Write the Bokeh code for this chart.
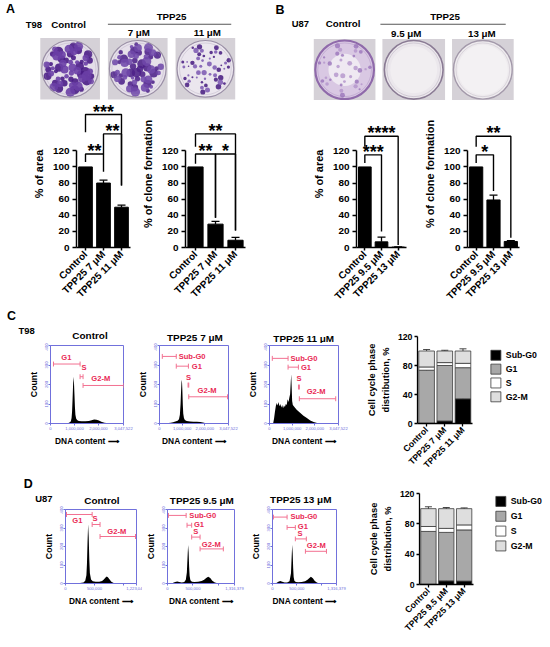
import math
from bokeh.plotting import figure
from bokeh.layouts import row, column
from bokeh.models import (Range1d, FixedTicker, LinearAxis, Whisker, ColumnDataSource, TeeHead)
from bokeh.embed import file_html
from bokeh.resources import INLINE
from bokeh.core.properties import value

# ---------------- data ----------------
cats_A = ["Control", "TPP25 7 μM", "TPP25 11 μM"]
cats_B = ["Control", "TPP25 9.5 μM", "TPP25 13 μM"]

A_area = [100, 80, 50]
A_area_sd = [0, 3.5, 2.5]
A_clone = [100, 29, 9]
A_clone_sd = [0, 3.5, 3.5]
B_area = [100, 7, 0.5]
B_area_sd = [0, 6, 0.4]
B_clone = [100, 59, 7.5]
B_clone_sd = [0, 6, 1]

# significance brackets: (from, to, bracket y, left leg end, right leg end, label)
A_area_sig = [(0, 2, 165, 143, 77, "***"), (1, 2, 141, 116, 77, "**"), (0, 1, 116, 106, 94, "**")]
A_clone_sig = [(0, 2, 141, 125, 21, "**"), (0, 1, 116, 104, 37, "**"), (1, 2, 116, 37, 21, "*")]
B_area_sig = [(0, 2, 138, 125, 3, "****"), (0, 1, 115, 105, 20, "***")]
B_clone_sig = [(0, 2, 138, 125, 12, "**"), (0, 1, 115, 105, 70, "*")]

# DNA content histograms (x in millions, counts)
T98_ctrl_x = [0.0, 0.4, 0.65, 0.75, 0.81, 0.85, 0.88, 0.90, 0.92, 0.94, 0.96, 0.98, 1.00, 1.02, 1.04,
              1.07, 1.11, 1.18, 1.3, 1.45, 1.6, 1.72, 1.82, 1.92, 2.02, 2.12, 2.25, 2.4, 3.0]
T98_ctrl_y = [0, 0, 1, 3, 6, 12, 28, 60, 120, 190, 240, 210, 150, 85, 45,
              26, 18, 13, 11, 11, 13, 17, 20, 19, 15, 9, 4, 1, 0]
T98_7_x = [0.0, 0.3, 0.5, 0.6, 0.7, 0.8, 0.86, 0.9, 0.93, 0.95, 0.97, 0.99, 1.01, 1.03, 1.05,
           1.08, 1.12, 1.2, 1.35, 1.5, 1.65, 1.8, 1.92, 2.05, 3.0]
T98_7_y = [0, 1, 4, 7, 10, 14, 22, 45, 100, 160, 210, 225, 170, 95, 50,
           28, 18, 13, 10, 9, 9, 8, 5, 1, 0]
T98_11_x = [0.0, 0.16, 0.2, 0.24, 0.28, 0.32, 0.36, 0.4, 0.44, 0.48, 0.52, 0.56, 0.6, 0.64, 0.68,
            0.72, 0.76, 0.8, 0.84, 0.88, 0.91, 0.94, 0.96, 0.98, 1.0, 1.03, 1.1, 1.2, 1.35, 1.5,
            1.65, 1.8, 1.95, 2.1, 2.25, 3.0]
T98_11_y = [0, 0, 25, 60, 90, 105, 92, 110, 88, 100, 82, 95, 78, 92, 85,
            100, 95, 125, 110, 135, 150, 215, 253, 185, 115, 95, 85, 70, 55, 40,
            28, 16, 8, 3, 0, 0]
U87_ctrl_x = [0.0, 0.1, 0.25, 0.31, 0.34, 0.36, 0.37, 0.38, 0.39, 0.40, 0.41, 0.42, 0.44, 0.47,
              0.52, 0.58, 0.63, 0.66, 0.69, 0.71, 0.73, 0.76, 0.79, 0.83, 0.9, 1.22]
U87_ctrl_y = [0, 2, 3, 6, 15, 45, 110, 230, 320, 250, 130, 55, 22, 12,
              9, 10, 14, 22, 33, 38, 34, 22, 10, 3, 0, 0]
U87_95_x = [0.0, 0.1, 0.15, 0.19, 0.23, 0.28, 0.33, 0.36, 0.38, 0.395, 0.405, 0.415, 0.425, 0.435,
            0.45, 0.48, 0.53, 0.6, 0.67, 0.72, 0.76, 0.8, 0.84, 0.88, 0.93, 1.0, 1.31]
U87_95_y = [0, 3, 8, 11, 8, 5, 8, 20, 60, 150, 208, 170, 90, 40,
            18, 10, 8, 9, 13, 20, 30, 37, 30, 15, 5, 0, 0]
U87_13_x = [0.0, 0.08, 0.12, 0.16, 0.2, 0.25, 0.3, 0.35, 0.38, 0.395, 0.405, 0.415, 0.425, 0.435,
            0.45, 0.48, 0.53, 0.6, 0.67, 0.72, 0.76, 0.79, 0.83, 0.87, 0.92, 1.0, 1.31]
U87_13_y = [0, 3, 9, 14, 9, 5, 5, 12, 55, 150, 210, 165, 85, 35,
            15, 8, 7, 8, 12, 20, 30, 36, 28, 13, 4, 0, 0]

T98_xmax = 3.047522
U87_ctrl_xmax = 1.22304
U87_xmax = 1.316379
T98_ticks = [0, 1, 2, 3.047522]
T98_tick_labels = ["0", "1,000,000", "2,000,000", "3,047,522"]
U87_ctrl_ticks = [0, 0.5, 1.0, 1.22304]
U87_ctrl_tick_labels = ["0", "500,000", "", "1,223,04"]
U87_ticks = [0, 0.5, 1.0, 1.316379]
U87_tick_labels = ["0", "500,000", "", "1,316,379"]
count_ticks = [0, 100, 200, 300, 400]

# gates: (name, x0, x1, y, label x, label y, label align)
T98_ctrl_gates = [("G1", 0.124, 1.235, 305, 0.66, 340, "center"),
                  ("S", 1.235, 1.359, 240, 1.40, 288, "center"),
                  ("G2-M", 1.359, 3.047, 195, 2.1, 230, "center")]
T98_7_gates = [("Sub-G0", 0.124, 0.741, 344, 0.78, 344, "left"),
               ("G1", 0.741, 1.277, 294, 1.36, 291, "left"),
               ("S", 1.262, 1.292, 197, 1.277, 238, "center"),
               ("G2-M", 1.292, 3.006, 137, 2.1, 167, "center")]
T98_11_gates = [("Sub-G0", 0.124, 0.82, 334, 0.865, 334, "left"),
                ("G1", 0.82, 1.277, 289, 1.32, 289, "left"),
                ("S", 1.28, 1.32, 187, 1.30, 233, "center"),
                ("G2-M", 1.318, 2.924, 127, 2.06, 162, "center")]
U87_ctrl_gates = [("G1", 0.017, 0.459, 373, 0.204, 342, "center"),
                  ("S", 0.459, 0.595, 319, 0.51, 351, "center"),
                  ("G2-M", 0.595, 1.206, 254, 0.883, 281, "center")]
U87_95_gates = [("Sub-G0", 0.018, 0.366, 368, 0.40, 368, "left"),
                ("G1", 0.384, 0.475, 315, 0.49, 317, "left"),
                ("S", 0.475, 0.64, 251, 0.557, 283, "center"),
                ("G2-M", 0.64, 1.097, 187, 0.86, 213, "center")]
U87_13_gates = [("Sub-G0", 0.019, 0.30, 359, 0.338, 364, "left"),
                ("G1", 0.30, 0.47, 303, 0.49, 308, "left"),
                ("S", 0.47, 0.696, 241, 0.564, 272, "center"),
                ("G2-M", 0.677, 1.11, 174, 0.90, 205, "center")]

# cell cycle phase distribution (%)
phase_names = ["Sub-G0", "G1", "S", "G2-M"]
C_sub = [0.3, 3.5, 34.0]
C_g1 = [73.2, 76.5, 43.0]
C_s = [4.5, 4.0, 6.0]
C_g2m = [22.0, 16.0, 17.0]
C_sub_sd = [0.3, 5.5, 8.0]
C_g1_sd = [3.0, 3.0, 2.0]
C_s_sd = [1.5, 2.5, 3.0]
C_g2m_sd = [2.0, 1.0, 3.0]
D_sub = [0.3, 4.8, 4.5]
D_g1 = [69.7, 63.9, 67.5]
D_s = [6.5, 5.3, 6.6]
D_g2m = [23.5, 26.0, 21.4]
D_sub_sd = [0.3, 4.0, 3.5]
D_g1_sd = [3.0, 8.0, 4.0]
D_s_sd = [1.5, 3.0, 3.0]
D_g2m_sd = [2.5, 1.5, 1.0]

# ---------------- helpers ----------------
K = 0.995
FONT = "Liberation Sans"
BLUE = "#7070dc"
GATE = "#f27090"
GATE_TXT = "#e92a55"
PHASE_COLORS = ["black", "#a8a8a8", "white", "#dedede"]


def px(v):
    return int(round(v * K))


def fs(v):
    return f"{v * K:.2f}px"


def make_fig(x0, x1, y0, y1, fl, fr, ft, fb, xr, yr, axes=True):
    kw = dict(width=px(x1) - px(x0), height=px(y1) - px(y0), x_range=xr, y_range=yr,
              output_backend="svg", toolbar_location=None, title=None,
              min_border_left=px(fl) - px(x0), min_border_right=px(x1) - px(fr),
              min_border_top=px(ft) - px(y0), min_border_bottom=px(y1) - px(fb))
    if not axes:
        kw.update(x_axis_type=None, y_axis_type=None)
    p = figure(**kw)
    p.grid.visible = False
    p.outline_line_color = None
    p.background_fill_color = "white"
    p.border_fill_color = "white"
    return p


def canvas(x0, x1, y0, y1):
    # a plain drawing area whose data units are the reference pixels
    return make_fig(x0, x1, y0, y1, x0, x1, y0, y1, Range1d(x0, x1), Range1d(y1, y0), axes=False)


def htext(p, x, y, text, size, align="center", color="black"):
    p.text(x=[x], y=[y], text=[text], text_font=value(FONT), text_font_size=fs(size),
           text_font_style="bold", text_color=color, text_align=align, text_baseline="middle")


def dish(p, x0, y0, x1, y1, fill, rim, rim_w, n, rmin, rmax, colors, alpha, seed,
         spread=0.88, inner=None):
    cx, cy = (x0 + x1) / 2, (y0 + y1) / 2
    w, h = x1 - x0, y1 - y0
    p.rect(x=[cx], y=[cy], width=[w], height=[h], fill_color="#d5d1d7", line_color=None)
    R = min(w, h) / 2 - 1.5
    p.circle(x=[cx], y=[cy], radius=[R], fill_color=fill, line_color=None)
    if inner is not None:
        p.circle(x=[cx], y=[cy], radius=[R * inner[1]], fill_color=inner[0], line_color=None)
    for k, col in enumerate(colors):
        xs, ys, rs = [], [], []
        for i in range(k, n, len(colors)):
            u = (seed + 0.5 + i * 0.7548776662) % 1.0
            v = (seed * 0.3 + 0.5 + i * 0.5698402910) % 1.0
            rr = R * spread * math.sqrt(u)
            th = 2 * math.pi * v
            xs.append(cx + rr * math.cos(th))
            ys.append(cy + rr * math.sin(th))
            rs.append(rmin + (rmax - rmin) * ((i * 0.618034 + seed * 0.37) % 1.0))
        p.circle(x=xs, y=ys, radius=rs, fill_color=col, fill_alpha=alpha, line_color=None)
    p.circle(x=[cx], y=[cy], radius=[R], fill_color=None, line_color=rim, line_width=rim_w * K)
    p.circle(x=[cx], y=[cy], radius=[R - 2.5], fill_color=None, line_color=rim,
             line_alpha=0.35, line_width=0.8 * K)


# ---------------- band 1: photos ----------------
hdr = canvas(0, 550, 0, 101)
htext(hdr, 10, 9, "A", 12.5)
htext(hdr, 33.5, 24, "T98", 9.5)
htext(hdr, 68.5, 24, "Control", 9.8)
htext(hdr, 172, 16, "TPP25", 9.8)
hdr.segment(x0=[108, 382], y0=[24, 24], x1=[232, 508], y1=[24, 24], line_color="#555555", line_width=1 * K)
htext(hdr, 139, 32.5, "7 μM", 9.8)
htext(hdr, 208, 32.5, "11 μM", 9.8)
htext(hdr, 281, 10, "B", 12.5)
htext(hdr, 301.5, 23, "U87", 9.5)
htext(hdr, 344.5, 23.5, "Control", 9.8)
htext(hdr, 447, 16, "TPP25", 9.8)
htext(hdr, 408, 33, "9.5 μM", 9.8)
htext(hdr, 484, 33, "13 μM", 9.8)

dish(hdr, 40, 38, 100, 100, "#e4dee9", "#9a8fa6", 1.2, 58, 2.0, 5.0, ["#4a1d86", "#6a3fa6"], 0.9, 0.13)
dish(hdr, 108, 38, 168, 100, "#e6e0ea", "#9a8fa6", 1.2, 55, 1.8, 4.8, ["#4d2189", "#7048aa"], 0.88, 0.41)
dish(hdr, 176, 38, 236, 100, "#ebe6ee", "#9a8fa6", 1.2, 50, 0.8, 2.8, ["#45197f", "#7a56b0"], 0.85, 0.77)
dish(hdr, 315, 39, 377, 101, "#d9c8e3", "#8f6aaa", 2.2, 34, 1.0, 2.6, ["#9a74ba", "#b394cb"], 0.8, 0.29,
     spread=0.92, inner=("#efe9f2", 0.55))
dish(hdr, 384, 39, 447, 101, "#ebe7ec", "#8a7b94", 1.6, 0, 1, 1, [], 0.5, 0.0, inner=("#f1eef1", 0.8))
dish(hdr, 454, 39, 516, 101, "#eeebee", "#a399aa", 1.4, 0, 1, 1, [], 0.5, 0.0, inner=("#f3f1f3", 0.85))


# ---------------- band 2: bar charts ----------------
def bar_fig(x0, x1, fl, fr, cats, vals, sds, sigs, ylabel):
    y0, y1, ft, fb = 101, 310, 101, 250
    per = 120.0 / (250 - 152)
    ytop = (fb - ft) * per
    p = make_fig(x0, x1, y0, y1, fl, fr, ft, fb, Range1d(-0.5, 2.5), Range1d(0, ytop))
    xs = [0, 1, 2]
    p.vbar(x=xs, top=vals, width=0.76, fill_color="black", line_color="black")
    ex = [x for x, s in zip(xs, sds) if s > 0]
    lo = [v for v, s in zip(vals, sds) if s > 0]
    hi = [v + s for v, s in zip(vals, sds) if s > 0]
    src = ColumnDataSource(dict(x=ex, lo=lo, hi=hi))
    p.add_layout(Whisker(source=src, base="x", upper="hi", lower="lo", line_color="black",
                         line_width=1.3 * K, lower_head=None,
                         upper_head=TeeHead(size=px(8), line_color="black", line_width=1.3 * K)))
    for (i, j, yb, yl, yr, lab) in sigs:
        p.multi_line(xs=[[i, i, j, j]], ys=[[yl, yb, yb, yr]], line_color="black", line_width=1.4 * K)
        p.text(x=[(i + j) / 2], y=[yb], text=[lab], text_font=value(FONT), text_font_size=fs(18),
               text_font_style="bold", text_align="center", text_baseline="middle",
               y_offset=-3 * K, text_color="black")
    xa = p.xaxis[0]
    xa.ticker = FixedTicker(ticks=xs)
    xa.major_label_overrides = {i: c for i, c in enumerate(cats)}
    xa.major_label_orientation = math.pi / 4
    xa.major_label_text_font = FONT
    xa.major_label_text_font_size = fs(10)
    xa.major_label_text_font_style = "bold"
    xa.major_label_text_color = "black"
    xa.major_tick_out = px(3)
    xa.major_tick_in = 0
    xa.minor_tick_line_color = None
    xa.axis_line_width = 1.5 * K
    xa.major_tick_line_width = 1.5 * K
    xa.major_label_standoff = px(2)
    ya = p.yaxis[0]
    ya.ticker = FixedTicker(ticks=[0, 20, 40, 60, 80, 100, 120])
    ya.bounds = (0, 120)
    ya.major_label_text_font = FONT
    ya.major_label_text_font_size = fs(10)
    ya.major_label_text_font_style = "bold"
    ya.major_label_text_color = "black"
    ya.major_tick_out = px(4)
    ya.major_tick_in = 0
    ya.minor_tick_line_color = None
    ya.axis_line_width = 1.5 * K
    ya.major_tick_line_width = 1.5 * K
    ya.major_label_standoff = px(3)
    ya.axis_label = ylabel
    ya.axis_label_text_font = FONT
    ya.axis_label_text_font_size = fs(11)
    ya.axis_label_text_font_style = "bold"
    ya.axis_label_text_color = "black"
    ya.axis_label_standoff = px(5)
    return p


a1 = bar_fig(0, 135, 76, 131, cats_A, A_area, A_area_sd, A_area_sig, "% of area")
a2 = bar_fig(135, 275, 186, 246, cats_A, A_clone, A_clone_sd, A_clone_sig, "% of clone formation")
b1 = bar_fig(275, 412, 358, 408, cats_B, B_area, B_area_sd, B_area_sig, "% of area")
b2 = bar_fig(412, 550, 469, 522, cats_B, B_clone, B_clone_sd, B_clone_sig, "% of clone formation")


# ---------------- bands 3/4: histograms ----------------
def hist_fig(x0, x1, y0, y1, fl, fr, ft, fb, xs, ys, xmax, ticks, tick_labels, gates):
    p = make_fig(x0, x1, y0, y1, fl, fr, ft, fb, Range1d(0, xmax), Range1d(0, 400))
    p.outline_line_color = BLUE
    p.outline_line_width = 1 * K
    p.varea(x=xs, y1=0, y2=ys, fill_color="black")
    cap = 2.5 * 400.0 / (fb - ft)
    for (name, g0, g1, gy, lx, ly, al) in gates:
        p.segment(x0=[g0, g0, g1], y0=[gy, gy - cap, gy - cap], x1=[g1, g0, g1], y1=[gy, gy + cap, gy + cap],
                  line_color=GATE, line_width=1 * K)
        p.text(x=[lx], y=[ly], text=[name], text_font=value(FONT), text_font_size=fs(7.6),
               text_font_style="bold", text_color=GATE_TXT, text_align=al, text_baseline="middle",
               x_offset=(1.5 * K if al == "left" else 0))
    for ax in (p.xaxis[0], p.yaxis[0]):
        ax.axis_line_color = BLUE
        ax.axis_line_width = 1 * K
        ax.major_tick_line_color = BLUE
        ax.minor_tick_line_color = None
        ax.major_tick_out = px(2)
        ax.major_tick_in = 0
        ax.major_label_text_color = BLUE
        ax.major_label_text_font = FONT
        ax.major_label_text_font_size = fs(4.2)
        ax.major_label_standoff = px(1)
        ax.axis_label_text_font = FONT
        ax.axis_label_text_font_style = "bold"
        ax.axis_label_text_color = "black"
        ax.axis_label_standoff = px(3)
    xa = p.xaxis[0]
    xa.ticker = FixedTicker(ticks=ticks)
    xa.major_label_overrides = dict(zip(ticks, tick_labels))
    xa.axis_label = "DNA content ⟶"
    xa.axis_label_text_font_size = fs(8.4)
    ya = p.yaxis[0]
    ya.ticker = FixedTicker(ticks=count_ticks)
    ya.major_label_orientation = "vertical"
    ya.axis_label = "Count"
    ya.axis_label_text_font_size = fs(8.8)
    return p


def stacked_fig(x0, x1, y0, y1, fl, cat_right, fr, ft, fb, cats, sub, g1, s, g2m, sds,
                sq_x, lab_x, rows_y):
    span = cat_right - fl
    xend = -0.5 + 3.0 * (fr - fl) / span
    p = make_fig(x0, x1, y0, y1, fl, fr, ft, fb, Range1d(-0.5, xend), Range1d(0, 120))

    def xd(v):
        return -0.5 + 3.0 * (v - fl) / span

    def yd(v):
        return (fb - v) * 120.0 / (fb - ft)

    xs = [0, 1, 2]
    src = ColumnDataSource(dict(x=xs, sub=sub, g1=g1, s=s, g2m=g2m))
    p.vbar_stack(["sub", "g1", "s", "g2m"], x="x", width=0.86, source=src,
                 fill_color=PHASE_COLORS, line_color="#3a3a3a", line_width=0.8 * K)
    tops = [0, 0, 0]
    for seg, sd in zip([sub, g1, s, g2m], sds):
        tops = [t + v for t, v in zip(tops, seg)]
        wsrc = ColumnDataSource(dict(x=xs, lo=[t - d for t, d in zip(tops, sd)],
                                     hi=[t + d for t, d in zip(tops, sd)]))
        p.add_layout(Whisker(source=wsrc, base="x", upper="hi", lower="lo", line_color="#303030",
                             line_width=0.9 * K,
                             upper_head=TeeHead(size=px(7), line_color="#303030", line_width=0.9 * K),
                             lower_head=TeeHead(size=px(7), line_color="#303030", line_width=0.9 * K)))
    # legend keys
    ly = [yd(v) for v in rows_y]
    p.scatter(x=[xd(sq_x)] * 4, y=ly, marker="square", size=px(10), fill_color=PHASE_COLORS,
              line_color="#3a3a3a", line_width=0.8 * K)
    p.text(x=[xd(lab_x)] * 4, y=ly, text=phase_names, text_font=value(FONT),
           text_font_size=fs(8.8), text_font_style="bold", text_color="black",
           text_align="left", text_baseline="middle")
    xa = p.xaxis[0]
    xa.ticker = FixedTicker(ticks=xs)
    xa.bounds = (-0.5, 2.5)
    xa.major_label_overrides = {i: c for i, c in enumerate(cats)}
    xa.major_label_orientation = math.pi / 4
    ya = p.yaxis[0]
    ya.ticker = FixedTicker(ticks=[0, 40, 80, 120])
    ya.axis_label = "distribution, %"
    outer = LinearAxis(ticker=FixedTicker(ticks=[]), axis_label="Cell cycle phase",
                       axis_line_color=None, major_tick_line_color=None, minor_tick_line_color=None,
                       major_tick_out=0, major_label_standoff=0, axis_label_standoff=px(1))
    p.add_layout(outer, "left")
    for ax in (xa, ya, outer):
        ax.major_label_text_font = FONT
        ax.major_label_text_font_size = fs(8.8)
        ax.major_label_text_font_style = "bold"
        ax.major_label_text_color = "black"
        ax.minor_tick_line_color = None
        ax.axis_label_text_font = FONT
        ax.axis_label_text_font_size = fs(9.4)
        ax.axis_label_text_font_style = "bold"
        ax.axis_label_text_color = "black"
    for ax in (xa, ya):
        ax.major_tick_out = px(3)
        ax.major_tick_in = 0
        ax.axis_line_width = 1.3 * K
        ax.major_tick_line_width = 1.3 * K
        ax.major_label_standoff = px(2)
        ax.axis_label_standoff = px(4)
    return p


hdrC = canvas(0, 350, 310, 345)
htext(hdrC, 11, 317, "C", 12.5)
htext(hdrC, 18, 332, "T98", 9.5, align="left")
htext(hdrC, 90, 337, "Control", 10)
htext(hdrC, 195.5, 338.5, "TPP25 7 μM", 10)
htext(hdrC, 305, 339.5, "TPP25 11 μM", 10)

c1 = hist_fig(0, 135, 345, 478, 50, 124, 345, 425, T98_ctrl_x, T98_ctrl_y, T98_xmax, T98_ticks,
              T98_tick_labels, T98_ctrl_gates)
c2 = hist_fig(135, 245, 345, 478, 155, 229, 347, 426, T98_7_x, T98_7_y, T98_xmax, T98_ticks,
              T98_tick_labels, T98_7_gates)
c3 = hist_fig(245, 350, 345, 478, 266, 340, 346, 425, T98_11_x, T98_11_y, T98_xmax, T98_ticks,
              T98_tick_labels, T98_11_gates)
c4 = stacked_fig(350, 550, 310, 478, 419, 474, 546, 338, 426, cats_A, C_sub, C_g1, C_s, C_g2m,
                 [C_sub_sd, C_g1_sd, C_s_sd, C_g2m_sd], 498, 508, [357, 371, 385, 399])

hdrD = canvas(0, 350, 478, 509)
htext(hdrD, 28, 486, "D", 12.5)
htext(hdrD, 35, 501, "U87", 9.5, align="left")
htext(hdrD, 102, 502.5, "Control", 10)
htext(hdrD, 202.5, 502.5, "TPP25 9.5 μM", 10)
htext(hdrD, 302, 502, "TPP25 13 μM", 10)

d1 = hist_fig(0, 143, 509, 647, 65, 137, 512, 586, U87_ctrl_x, U87_ctrl_y, U87_ctrl_xmax, U87_ctrl_ticks,
              U87_ctrl_tick_labels, U87_ctrl_gates)
d2 = hist_fig(143, 248, 509, 647, 163, 235, 512, 587, U87_95_x, U87_95_y, U87_xmax, U87_ticks,
              U87_tick_labels, U87_95_gates)
d3 = hist_fig(248, 350, 509, 647, 268, 338, 509, 587, U87_13_x, U87_13_y, U87_xmax, U87_ticks,
              U87_tick_labels, U87_13_gates)
d4 = stacked_fig(350, 550, 478, 647, 421, 475, 546, 495, 587, cats_B, D_sub, D_g1, D_s, D_g2m,
                 [D_sub_sd, D_g1_sd, D_s_sd, D_g2m_sd], 503, 513, [503, 518, 533, 548])

layout = column(
    hdr,
    row(a1, a2, b1, b2),
    row(column(hdrC, row(c1, c2, c3)), c4),
    row(column(hdrD, row(d1, d2, d3)), d4),
)
open("out.html", "w").write(file_html(layout, INLINE))
